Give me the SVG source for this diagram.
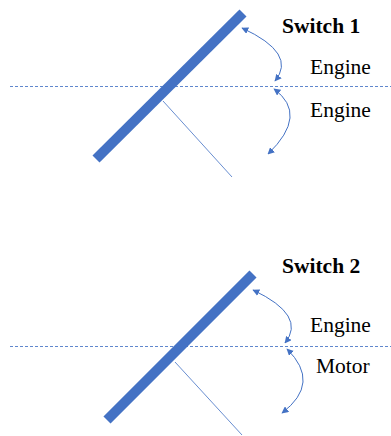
<svg xmlns="http://www.w3.org/2000/svg" width="391" height="436" viewBox="0 0 391 436">
<style>
.bar{stroke:#4472C4;stroke-width:10;fill:none}
.thin{stroke:#4472C4;stroke-width:1;fill:none;opacity:0.8}
.dash{stroke:#4472C4;stroke-width:1;stroke-dasharray:3 2;fill:none;opacity:0.85}
.arc{stroke:#4472C4;stroke-width:1;fill:none;marker-start:url(#ah);marker-end:url(#ah)}
text{font-family:'Liberation Serif','Times New Roman',Times,serif;font-size:21.5px;fill:#000}
.b{font-weight:bold}
</style>
<defs>
<marker id="ah" viewBox="0 0 10 10" refX="9" refY="5" markerWidth="7" markerHeight="7" markerUnits="userSpaceOnUse" orient="auto-start-reverse">
<path d="M0,0 L10,5 L0,10 z" fill="#4472C4"/>
</marker>
</defs>
<g id="switch1">
<line class="dash" x1="10" y1="86.5" x2="391" y2="86.5"/>
<line class="thin" x1="163" y1="101" x2="232" y2="177"/>
<line class="bar" x1="96" y1="159" x2="243" y2="13"/>
<text class="b" x="282" y="33">Switch 1</text>
<text x="310" y="74">Engine</text>
<text x="310" y="117">Engine</text>
</g>
<g id="switch2">
<line class="dash" x1="10" y1="346.5" x2="391" y2="346.5"/>
<line class="thin" x1="175" y1="362" x2="242" y2="435"/>
<line class="bar" x1="107" y1="420" x2="253" y2="274"/>
<text class="b" x="282" y="273">Switch 2</text>
<text x="310" y="332">Engine</text>
<text x="316" y="373">Motor</text>
</g>
<g id="connectors">
<path class="arc" d="M242,28 Q297.5,53.5 275,81"/>
<path class="arc" d="M274,89 Q309,114.5 268,154"/>
<path class="arc" d="M253,290 Q307,315.5 285,343"/>
<path class="arc" d="M287,349 Q321.5,383 282,413"/>
</g>
</svg>
